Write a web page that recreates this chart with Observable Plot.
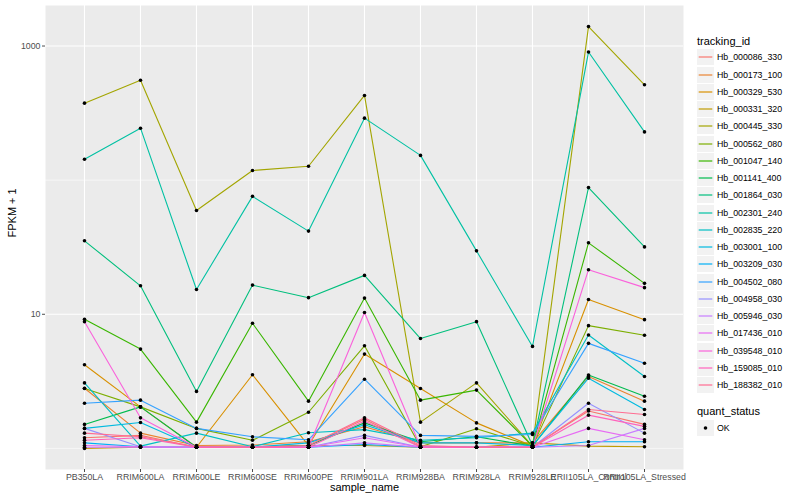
<!DOCTYPE html>
<html><head><meta charset="utf-8">
<script src="https://cdn.jsdelivr.net/npm/d3@7"></script>
<script src="https://cdn.jsdelivr.net/npm/@observablehq/plot@0.6"></script>
<style>
body{margin:0;background:#fff;font-family:"Liberation Sans",Arial,sans-serif;}
#wrap{position:relative;width:800px;height:500px;overflow:hidden;}
#legend{position:absolute;left:0;top:0;width:800px;height:500px;pointer-events:none;}
.lt{position:absolute;font-size:11px;color:#000;line-height:12px;white-space:nowrap;}
.lk{position:absolute;width:17px;height:16px;background:#F2F2F2;}
.lk svg{position:absolute;left:0;top:0;}
.ll{position:absolute;font-size:8.8px;color:#000;line-height:10px;white-space:nowrap;}
</style></head>
<body><div id="wrap"><div id="chart"></div><div id="legend"></div></div>
<script>
const samples = ["PB350LA","RRIM600LA","RRIM600LE","RRIM600SE","RRIM600PE","RRIM901LA","RRIM928BA","RRIM928LA","RRIM928LE","RRII105LA_Control","RRII105LA_Stressed"];
const trackingIds = ["Hb_000086_330","Hb_000173_100","Hb_000329_530","Hb_000331_320","Hb_000445_330","Hb_000562_080","Hb_001047_140","Hb_001141_400","Hb_001864_030","Hb_002301_240","Hb_002835_220","Hb_003001_100","Hb_003209_030","Hb_004502_080","Hb_004958_030","Hb_005946_030","Hb_017436_010","Hb_039548_010","Hb_159085_010","Hb_188382_010"];
// FPKM + 1, one row per tracking_id, columns follow `samples`
const fpkmPlus1 = [
  [1.20, 1.25, 1.02, 1.03, 1.05, 1.65, 1.03, 1.02, 1.03, 1.90, 1.51],
  [2.81, 1.30, 1.05, 1.06, 1.12, 1.45, 1.10, 1.10, 1.10, 3.44, 2.25],
  [4.20, 2.04, 1.02, 3.54, 1.05, 5.05, 2.80, 1.55, 1.04, 12.9, 9.12],
  [1.00, 1.02, 1.02, 1.02, 1.05, 1.05, 1.02, 1.02, 1.10, 1.04, 1.03],
  [375, 555, 59.4, 118, 127, 428, 1.57, 3.08, 1.04, 1396, 514],
  [2.80, 2.04, 1.41, 1.15, 1.86, 5.82, 1.03, 1.40, 1.04, 8.23, 6.97],
  [9.18, 5.50, 1.57, 8.57, 2.25, 13.2, 2.29, 2.72, 1.04, 34.1, 17.0],
  [1.51, 2.04, 1.02, 1.02, 1.05, 1.55, 1.12, 1.22, 1.04, 3.52, 2.45],
  [35.3, 16.3, 2.66, 16.5, 13.3, 19.5, 6.59, 8.81, 1.05, 88, 31.8],
  [143, 244, 15.3, 75.7, 41.7, 290, 153, 29.7, 5.76, 902, 229],
  [3.08, 1.04, 1.30, 1.03, 1.31, 1.38, 1.15, 1.20, 1.30, 7.0, 3.44],
  [1.41, 1.56, 1.02, 1.02, 1.10, 1.50, 1.10, 1.10, 1.05, 3.34, 1.95],
  [1.10, 1.03, 1.02, 1.02, 1.02, 1.07, 1.02, 1.02, 1.02, 1.12, 1.12],
  [2.17, 2.29, 1.41, 1.22, 1.16, 3.28, 1.25, 1.23, 1.27, 6.07, 4.31],
  [1.41, 1.03, 1.02, 1.02, 1.02, 1.25, 1.02, 1.02, 1.02, 2.17, 1.30],
  [1.02, 1.02, 1.02, 1.02, 1.02, 1.10, 1.02, 1.02, 1.02, 1.05, 1.41],
  [1.05, 1.03, 1.02, 1.02, 1.02, 1.20, 1.02, 1.02, 1.02, 1.41, 1.16],
  [8.81, 1.69, 1.02, 1.02, 1.02, 10.3, 1.02, 1.02, 1.02, 21.5, 15.8],
  [1.15, 1.20, 1.02, 1.02, 1.02, 1.60, 1.02, 1.02, 1.02, 1.77, 1.46],
  [1.30, 1.22, 1.03, 1.02, 1.05, 1.69, 1.05, 1.02, 1.02, 1.95, 1.79]
];
const quantStatus = ["OK"];
const yTicks = [10, 1000];
const yMinor = [1, 100];
const palette = ["#F8766D","#EA8331","#D89000","#C09B00","#A3A500","#7CAE00","#39B600","#00BB4E","#00BF7D","#00C1A3","#00BFC4","#00BAE0","#00B0F6","#35A2FF","#9590FF","#C77CFF","#E76BF3","#FA62DB","#FF62BC","#FF6C91"];

const rows = [];
trackingIds.forEach((id, i) => samples.forEach((s, j) =>
  rows.push({tracking_id: id, sample_name: s, value: fpkmPlus1[i][j], quant_status: quantStatus[0]})));

const logs = rows.map(d => Math.log10(d.value));
const lo = d3.min(logs), hi = d3.max(logs), pad = (hi - lo) * 0.05;
const yDomain = [10 ** (lo - pad), 10 ** (hi + pad)];

const font = "Liberation Sans, Arial, sans-serif";
const chart = Plot.plot({
  width: 800, height: 500,
  marginLeft: 45, marginRight: 117, marginTop: 5, marginBottom: 31,
  style: {fontFamily: font, fontSize: "8.8px", background: "white", overflow: "visible"},
  x: {type: "point", domain: samples, padding: 0.6, label: null},
  y: {type: "log", domain: yDomain, label: null},
  color: {domain: trackingIds, range: palette},
  marks: [
    Plot.frame({fill: "#EBEBEB", stroke: "none"}),
    Plot.ruleY(yMinor, {stroke: "white", strokeWidth: 0.55}),
    Plot.ruleY(yTicks, {stroke: "white", strokeWidth: 1.1}),
    Plot.ruleX(samples, {stroke: "white", strokeWidth: 1.1}),
    Plot.line(rows, {x: "sample_name", y: "value", z: "tracking_id", stroke: "tracking_id", strokeWidth: 1.1}),
    Plot.dot(rows, {x: "sample_name", y: "value", fill: "black", stroke: "none", r: 1.8}),
    Plot.axisX({ticks: samples, tickSize: 3, tickPadding: 1, color: "#4D4D4D", label: null, fontSize: 8.8}),
    Plot.axisY({ticks: yTicks, tickFormat: d => String(d), tickSize: 3, tickPadding: 2, color: "#4D4D4D", label: null, fontSize: 8.8}),
    Plot.text(["sample_name"], {text: d => d, frameAnchor: "bottom", dy: 21, fontSize: 11, fill: "black"}),
    Plot.text(["FPKM + 1"], {text: d => d, frameAnchor: "left", dx: -33, rotate: -90, fontSize: 11, fill: "black"})
  ]
});
document.getElementById("chart").appendChild(chart);

// Legend (ggplot style, right side)
const lg = document.getElementById("legend");
function add(cls, css, txt) {
  const e = document.createElement("div"); e.className = cls;
  Object.assign(e.style, css); if (txt != null) e.textContent = txt; lg.appendChild(e); return e;
}
const NS = "http://www.w3.org/2000/svg";
function keySvg(box, draw) {
  const s = document.createElementNS(NS, "svg");
  s.setAttribute("width", 17); s.setAttribute("height", 16);
  draw(s); box.appendChild(s);
}
const lx = 697, step = 17.25, y0 = 57.3;
add("lt", {left: lx + "px", top: Math.round(40.7 - 6) + "px"}, "tracking_id");
trackingIds.forEach((id, i) => {
  const cy = y0 + i * step;
  const box = add("lk", {left: lx + "px", top: Math.round(cy - 8) + "px"});
  keySvg(box, s => {
    const l = document.createElementNS(NS, "line");
    l.setAttribute("x1", 1.7); l.setAttribute("x2", 15.3);
    l.setAttribute("y1", 8); l.setAttribute("y2", 8);
    l.setAttribute("stroke", palette[i]); l.setAttribute("stroke-width", 1.2);
    s.appendChild(l);
  });
  add("ll", {left: "717px", top: Math.round(cy - 5) + "px"}, id);
});
const qy = 411;
add("lt", {left: lx + "px", top: Math.round(qy - 6) + "px"}, "quant_status");
quantStatus.forEach((q, i) => {
  const cy = qy + 17.3 + i * step;
  const box = add("lk", {left: lx + "px", top: Math.round(cy - 8) + "px"});
  keySvg(box, s => {
    const c = document.createElementNS(NS, "circle");
    c.setAttribute("cx", 8.5); c.setAttribute("cy", 8); c.setAttribute("r", 1.8);
    c.setAttribute("fill", "black");
    s.appendChild(c);
  });
  add("ll", {left: "717px", top: Math.round(cy - 5) + "px"}, q);
});
</script>
</body></html>
